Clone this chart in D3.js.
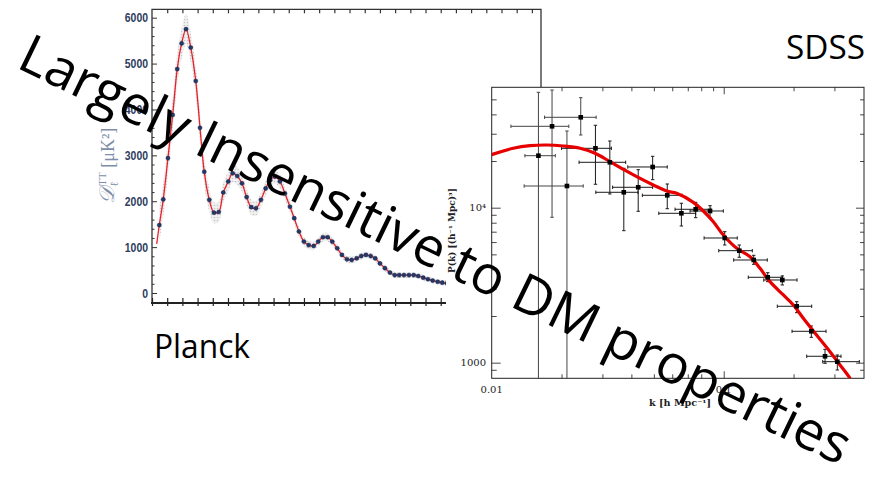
<!DOCTYPE html>
<html><head><meta charset="utf-8">
<script src="https://cdn.jsdelivr.net/npm/d3@7"></script>
<style>html,body{margin:0;padding:0;background:#fff;} svg{display:block;}</style>
</head><body>
<script>
// ---------------- DATA ----------------
// Planck CMB TT spectrum (binned points)
const planckEll = [48,74,105,136,166,195,224,255,288,316,344,377,408,439,469,502,531,561,592,623,653,684,717,748,778,809,842,875,908,936,967,1000,1031,1064,1094,1125,1156,1186,1219,1250,1283,1314,1347,1377,1408,1439,1469,1500,1533,1566,1597,1627,1658,1691,1722,1752,1785,1816,1847,1880,1910,1941,1972];
const planckDl  = [1480,2040,2940,3880,4880,5440,5750,5350,4620,3600,2640,2030,1750,1765,2190,2430,2610,2550,2390,2090,1870,1845,2030,2280,2460,2535,2430,2170,1880,1630,1340,1120,1045,1025,1120,1215,1215,1120,975,830,735,720,755,805,830,805,755,645,540,445,390,390,390,390,390,370,335,300,270,245,225,210,195];
// half-width of the grey scatter cloud around each bin
const planckScatter = [380,380,380,380,360,340,330,330,330,320,300,260,230,220,220,210,200,200,190,180,170,160,160,160,160,150,150,140,130,120,110,100,95,90,90,90,90,85,80,80,75,75,75,75,75,70,70,70,65,65,65,65,65,65,60,60,60,60,60,60,60,60,60];
const planckLineStartEll = 31, planckLineStartDl = 1070;
const planckYTicks = [0,1000,2000,3000,4000,5000,6000];
const planckEllDomain = [0,2560];

// SDSS galaxy power spectrum
const sdssK    = [0.0159,0.0182,0.0211,0.0242,0.0280,0.0323,0.0371,0.0428,0.0494,0.0571,0.0657,0.0757,0.0873,0.1010,0.1167,0.1347,0.1548,0.1789,0.2064,0.2386,0.2733,0.3088];
const sdssP    = [21650,33500,13800,38300,24160,19630,12570,13540,18310,12020,9200,9765,9520,6375,5280,4598,3556,3416,2312,1594,1100,1015];
const sdssKLo  = [0.0139,0.0121,0.0138,0.0169,0.0200,0.0238,0.0281,0.0332,0.0386,0.0446,0.0525,0.0617,0.0716,0.0823,0.0952,0.1104,0.1276,0.1488,0.1702,0.1970,0.2279,0.2671];
const sdssKHi  = [0.0188,0.0215,0.0248,0.0282,0.0328,0.0378,0.0427,0.0494,0.0571,0.0661,0.0757,0.0880,0.0996,0.1144,0.1328,0.1541,0.1789,0.2070,0.2395,0.2761,0.3203,0.3841];
const sdssPLo  = [500,8670,500,29440,14160,12260,7106,9480,15160,9850,7620,8620,8620,5745,4786,4313,3332,3173,2102,1458,991,897];
const sdssPHi  = [55520,57400,31250,51250,34010,26930,17960,17590,21460,14220,10680,10830,10300,7002,5745,4930,3807,3627,2474,1725,1220,1121];
const sdssModelK = [0.0100,0.01239,0.01463,0.01726,0.02035,0.02403,0.02788,0.03236,0.03692,0.04217,0.04971,0.05678,0.0627,0.07396,0.08168,0.0902,0.0996,0.1138,0.1299,0.1434,0.1583,0.1807,0.1995,0.2203,0.2512,0.2872,0.3171,0.3502,0.3800];
const sdssModelP = [22000,24160,25120,25380,25000,24160,22440,19810,17690,15850,14010,12810,12380,10830,9522,8122,6667,5472,4830,4064,3332,2734,2357,1934,1509,1178,967,793,640];
const sdssKDomain = [0.01,0.4];
const sdssPDomain = [793,59800];
const sdssXMajor = [0.01,0.1];
const sdssXMinor = [0.02,0.03,0.04,0.05,0.06,0.07,0.08,0.09,0.2,0.3];
const sdssYMajor = [1000,10000];
const sdssYMinor = [900,2000,3000,4000,5000,6000,7000,8000,9000,20000,30000,40000,50000];
const sdssXLabels = ["0.01","0.1"];
const sdssYLabels = ["1000","10\u2074"];

const titleText = "Largely Insensitive to DM properties";

// ---------------- DRAW ----------------
const W=873,H=480;
const svg=d3.select("body").append("svg").attr("width",W).attr("height",H);
svg.append("rect").attr("width",W).attr("height",H).attr("fill","#fff");
const defs=svg.append("defs");
const pat=defs.append("pattern").attr("id","stip").attr("width",3).attr("height",3).attr("patternUnits","userSpaceOnUse");
pat.append("rect").attr("width",3).attr("height",3).attr("fill","#efefef");
pat.append("circle").attr("cx",1.5).attr("cy",1.5).attr("r",0.8).attr("fill","#bdbdbd");

// ---- Planck ----
const px=d3.scaleLinear().domain(planckEllDomain).range([152,541]);
const py=d3.scaleLinear().domain([0,6000]).range([293,17.7]);
const gP=svg.append("g");
defs.append("clipPath").attr("id","pclip").append("rect").attr("x",152).attr("y",9.5).attr("width",389).attr("height",294);
const pts=planckEll.map((e,i)=>({ell:e,dl:planckDl[i],s:planckScatter[i]}));
const cloud=d3.area().x(d=>px(d.ell)).y0(d=>py(d.dl-d.s)).y1(d=>py(d.dl+d.s)).curve(d3.curveCatmullRom);
gP.append("path").attr("clip-path","url(#pclip)").attr("d",cloud(pts)).attr("fill","url(#stip)").attr("opacity",0.85);
const lineData=[{ell:planckLineStartEll,dl:planckLineStartDl}].concat(pts);
gP.append("path").attr("clip-path","url(#pclip)")
  .attr("d",d3.line().x(d=>px(d.ell)).y(d=>py(d.dl)).curve(d3.curveCatmullRom)(lineData))
  .attr("fill","none").attr("stroke","#e8202a").attr("stroke-width",1.3);
gP.selectAll("circle.pd").data(pts).join("circle").attr("class","pd")
  .attr("cx",d=>px(d.ell)).attr("cy",d=>py(d.dl)).attr("r",2.1)
  .attr("fill","#25386a").attr("stroke","#111d3d").attr("stroke-width",0.4);
// frame
gP.append("path").attr("d","M152,303V9.3H541V90").attr("fill","none").attr("stroke","#333").attr("stroke-width",1.3);
gP.append("line").attr("x1",151).attr("x2",541).attr("y1",303).attr("y2",303).attr("stroke","#222").attr("stroke-width",2);
// y ticks
const pyMinor=d3.range(0,6001,200).filter(v=>v%1000!==0);
gP.append("g").attr("transform","translate(152,0)")
  .call(d3.axisLeft(py).tickValues(pyMinor).tickSize(-2.5).tickFormat(""))
  .call(g=>g.select(".domain").remove()).selectAll("line").attr("stroke","#333");
const yAx=gP.append("g").attr("transform","translate(152,0)")
  .call(d3.axisLeft(py).tickValues(planckYTicks).tickSize(-5).tickPadding(4).tickFormat(d3.format("d")))
  .call(g=>g.select(".domain").remove());
yAx.selectAll("line").attr("stroke","#333");
yAx.selectAll("text").attr("font-family","Liberation Sans, Arial, sans-serif").attr("font-size",13)
  .attr("font-weight","bold").attr("fill","#2f3d5e")
  .attr("textLength",function(){return this.textContent.length*5.8;}).attr("lengthAdjust","spacingAndGlyphs");
// x ticks bottom / top
gP.append("g").attr("transform","translate(0,306)")
  .call(d3.axisTop(px).tickValues(d3.range(0,2600,100)).tickSize(8).tickFormat(""))
  .call(g=>g.select(".domain").remove()).selectAll("line").attr("stroke","#222").attr("stroke-width",1.2);
gP.append("g").attr("transform","translate(0,9.3)")
  .call(d3.axisBottom(px).tickValues(d3.range(100,2560,100)).tickSize(4).tickFormat(""))
  .call(g=>g.select(".domain").remove()).selectAll("line").attr("stroke","#333").attr("stroke-width",1.2);
// y label
const yl=gP.append("text").attr("transform","translate(114,204) rotate(-90)")
  .attr("font-family","Liberation Serif, serif").attr("font-size",18).attr("fill","#7d8daa");
yl.append("tspan").attr("font-style","italic").attr("font-size",21).text("\uD835\uDC9F");
yl.append("tspan").attr("font-size",11).attr("dy",4).text("\u2113");
yl.append("tspan").attr("font-size",11).attr("dy",-12).attr("dx",-4).text("TT");
yl.append("tspan").attr("dy",8).text(" [\u03BCK\u00B2]");

// ---- SDSS ----
svg.append("rect").attr("x",446).attr("y",87).attr("width",W-446).attr("height",H-87).attr("fill","#fff");
const sx=d3.scaleLog().domain(sdssKDomain).range([491.7,863.4]);
const sy=d3.scaleLog().domain(sdssPDomain).range([378.3,87.3]);
const gS=svg.append("g");
const fx0=491.7,fx1=864,fy0=87.3,fy1=378.3;
defs.append("clipPath").attr("id","sclip").append("rect").attr("x",fx0).attr("y",fy0).attr("width",fx1-fx0).attr("height",fy1-fy0);
const tk=(sel)=>sel.call(g=>g.select(".domain").remove()).selectAll("line").attr("stroke","#333").attr("stroke-width",0.9);
// ticks
gS.append("g").attr("transform",`translate(${fx0},0)`).call(d3.axisRight(sy).tickValues(sdssYMinor).tickSize(5).tickFormat("")).call(tk);
gS.append("g").attr("transform",`translate(${fx0},0)`).call(d3.axisRight(sy).tickValues(sdssYMajor).tickSize(9).tickFormat("")).call(tk);
gS.append("g").attr("transform",`translate(${fx1},0)`).call(d3.axisLeft(sy).tickValues(sdssYMinor).tickSize(4).tickFormat("")).call(tk);
gS.append("g").attr("transform",`translate(${fx1},0)`).call(d3.axisLeft(sy).tickValues(sdssYMajor).tickSize(8).tickFormat("")).call(tk);
gS.append("g").attr("transform",`translate(0,${fy0})`).call(d3.axisBottom(sx).tickValues(sdssXMinor).tickSize(4).tickFormat("")).call(tk);
gS.append("g").attr("transform",`translate(0,${fy0})`).call(d3.axisBottom(sx).tickValues(sdssXMajor.slice(1)).tickSize(7).tickFormat("")).call(tk);
gS.append("g").attr("transform",`translate(0,${fy1})`).call(d3.axisTop(sx).tickValues(sdssXMinor).tickSize(4).tickFormat("")).call(tk);
gS.append("g").attr("transform",`translate(0,${fy1})`).call(d3.axisTop(sx).tickValues(sdssXMajor.slice(1)).tickSize(7).tickFormat("")).call(tk);
gS.append("rect").attr("x",fx0).attr("y",fy0).attr("width",fx1-fx0).attr("height",fy1-fy0).attr("fill","none").attr("stroke","#222").attr("stroke-width",1);
// labels
const serif="DejaVu Serif, Liberation Serif, serif";
gS.selectAll("text.yl").data(sdssYMajor).join("text").attr("class","yl")
  .attr("x",486).attr("y",d=>sy(d)+3.5).attr("text-anchor","end")
  .attr("font-family",serif).attr("font-size",10).attr("fill","#222").text((d,i)=>sdssYLabels[i]);
gS.selectAll("text.xl").data(sdssXMajor).join("text").attr("class","xl")
  .attr("x",d=>sx(d)).attr("y",393).attr("text-anchor","middle")
  .attr("font-family",serif).attr("font-size",10).attr("fill","#222").text((d,i)=>sdssXLabels[i]);
gS.append("text").attr("transform","translate(455,230.5) rotate(-90)").attr("text-anchor","middle")
  .attr("font-family",serif).attr("font-size",8.5).attr("font-weight","bold").attr("fill","#222")
  .attr("textLength",85).attr("lengthAdjust","spacingAndGlyphs").text("P(k) [(h\u207B\u00B9 Mpc)\u00B3]");
gS.append("text").attr("x",680).attr("y",406).attr("text-anchor","middle")
  .attr("font-family",serif).attr("font-size",8.5).attr("font-weight","bold").attr("fill","#222")
  .attr("textLength",62).attr("lengthAdjust","spacingAndGlyphs").text("k [h Mpc\u207B\u00B9]");
// data
const sd=sdssK.map((k,i)=>({k,p:sdssP[i],k0:sdssKLo[i],k1:sdssKHi[i],p0:sdssPLo[i],p1:sdssPHi[i]}));
const gE=gS.append("g").attr("clip-path","url(#sclip)");
const eb=gE.selectAll("g.e").data(sd).join("g").attr("class","e").attr("stroke",(d,i)=>i<4?"#444":"#1a1a1a").attr("stroke-width",1);
eb.append("line").attr("x1",d=>sx(d.k)).attr("x2",d=>sx(d.k)).attr("y1",d=>sy(d.p0)).attr("y2",d=>sy(d.p1));
eb.append("line").attr("x1",d=>sx(d.k0)).attr("x2",d=>sx(d.k1)).attr("y1",d=>sy(d.p)).attr("y2",d=>sy(d.p));
eb.append("line").attr("x1",d=>sx(d.k)-1.7).attr("x2",d=>sx(d.k)+1.7).attr("y1",d=>sy(d.p1)).attr("y2",d=>sy(d.p1));
eb.append("line").attr("x1",d=>sx(d.k)-1.7).attr("x2",d=>sx(d.k)+1.7).attr("y1",d=>sy(d.p0)).attr("y2",d=>sy(d.p0));
eb.append("line").attr("x1",d=>sx(d.k0)).attr("x2",d=>sx(d.k0)).attr("y1",d=>sy(d.p)-1.7).attr("y2",d=>sy(d.p)+1.7);
eb.append("line").attr("x1",d=>sx(d.k1)).attr("x2",d=>sx(d.k1)).attr("y1",d=>sy(d.p)-1.7).attr("y2",d=>sy(d.p)+1.7);
const model=sdssModelK.map((k,i)=>({k,p:sdssModelP[i]}));
gE.append("path").attr("d",d3.line().x(d=>sx(d.k)).y(d=>sy(d.p)).curve(d3.curveCatmullRom)(model))
  .attr("fill","none").attr("stroke","#e60000").attr("stroke-width",3.2);
gE.selectAll("rect.sq").data(sd).join("rect").attr("class","sq")
  .attr("x",d=>sx(d.k)-2.3).attr("y",d=>sy(d.p)-2.3).attr("width",4.6).attr("height",4.6).attr("fill","#000");

// ---- slide texts ----
const sans="Open Sans, Lato, sans-serif";
svg.append("text").attr("x",154).attr("y",358).attr("font-family",sans).attr("font-size",32).attr("fill","#000")
  .attr("textLength",96).attr("lengthAdjust","spacingAndGlyphs").text("Planck");
svg.append("text").attr("x",786).attr("y",59).attr("font-family",sans).attr("font-size",32).attr("fill","#000")
  .attr("textLength",79).attr("lengthAdjust","spacingAndGlyphs").text("SDSS");
svg.append("text").attr("transform","translate(15,67) rotate(25.8)").attr("font-family",sans).attr("font-size",54)
  .attr("fill","#000").attr("textLength",916).attr("lengthAdjust","spacingAndGlyphs").text(titleText);
</script>
</body></html>
